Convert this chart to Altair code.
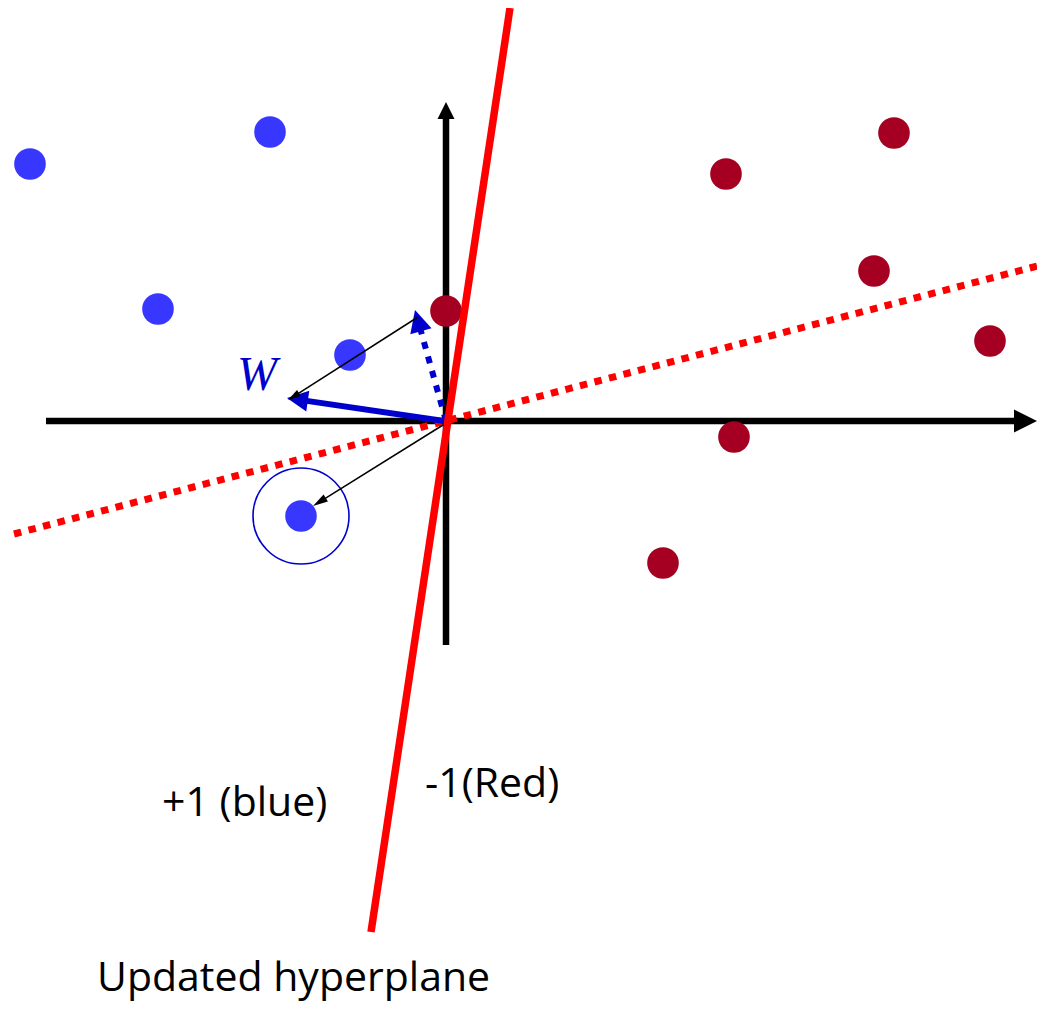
import math
import altair as alt
import pandas as pd

# ---------------- data (pixel coordinates) ----------------
blue_x = [30, 270, 158, 350, 301]
blue_y = [164, 132, 309, 355, 516]
red_x = [446, 726, 894, 874, 990, 734, 663]
red_y = [311, 174, 133, 271, 341, 437, 563]

# highlighted (misclassified) point ring
ring_x = [301]
ring_y = [516]

# hyperplanes: old (dotted) and updated (solid)
old_plane_x = [14, 1045]
old_plane_y = [534, 264]
new_plane_x = [510, 371]
new_plane_y = [8, 932]

# arrows: start point -> tip, head length
arrow_names = ["x_axis", "y_axis", "w_old", "w_dot", "shift1", "shift2"]
arrow_x1 = [46, 446, 444, 446, 418, 443]
arrow_y1 = [421, 645, 421, 421, 317, 425]
arrow_x2 = [1037, 446, 287, 415, 288, 313]
arrow_y2 = [421, 102, 398, 310, 400, 506]
arrow_head = [23, 17, 21, 22, 13, 15]
arrow_color = ["#000000", "#000000", "#0000CC", "#0000CC", "#000000", "#000000"]
arrow_width = [6.5, 6.5, 6, 6, 1.5, 1.5]
arrow_dashed = [False, False, False, True, False, False]

label_text = ["+1 (blue)", "-1(Red)", "Updated hyperplane"]
label_x = [162, 425, 97]
label_y = [816, 797, 991]

w_text = ["W"]
w_x = [237]
w_y = [390]

# ---------------- scales: 1 data unit = 1 pixel ----------------
W, H = 1029, 995
M = 8
xs = alt.Scale(domain=[M, M + W], nice=False, zero=False)
ys = alt.Scale(domain=[M, M + H], nice=False, zero=False, reverse=True)


def X(f="x"):
    return alt.X(f"{f}:Q", scale=xs, axis=None)


def Y(f="y"):
    return alt.Y(f"{f}:Q", scale=ys, axis=None)


# ---------------- arrow geometry ----------------
shaft_rows, head_rows = [], []
for n, x1, y1, x2, y2, L, c, w, d in zip(arrow_names, arrow_x1, arrow_y1, arrow_x2, arrow_y2,
                                         arrow_head, arrow_color, arrow_width, arrow_dashed):
    dx, dy = x2 - x1, y2 - y1
    ln = math.hypot(dx, dy)
    ux, uy = dx / ln, dy / ln
    shaft_rows.append(dict(name=n, x=x1, y=y1, x2=x2 - ux * (L - 1), y2=y2 - uy * (L - 1),
                           color=c, width=w, dashed=d))
    ang = math.degrees(math.atan2(dy, dx)) % 360
    head_rows.append(dict(name=n, x=x2 - ux * L / 2, y=y2 - uy * L / 2, angle=ang,
                          size=L * L, color=c))
shafts = pd.DataFrame(shaft_rows)
heads = pd.DataFrame(head_rows)

solid_black = shafts[(shafts.color == "#000000") & (shafts.width > 3)]
thin_black = shafts[(shafts.color == "#000000") & (shafts.width <= 3)]
blue_solid = shafts[(shafts.color == "#0000CC") & (~shafts.dashed)]
blue_dash = shafts[(shafts.color == "#0000CC") & (shafts.dashed)]

axes_layer = alt.Chart(solid_black).mark_rule(color="black", strokeWidth=6.5).encode(
    x=X(), y=Y(), x2="x2:Q", y2="y2:Q")
axes_heads = alt.Chart(heads[heads.name.isin(["x_axis", "y_axis"])]).mark_point(
    shape="M1,0L-1,-1L-1,1Z", filled=True, opacity=1, strokeOpacity=0).encode(
    x=X(), y=Y(), angle=alt.Angle("angle:Q", scale=None),
    size=alt.Size("size:Q", scale=None, legend=None),
    color=alt.Color("color:N", scale=None))

pts_blue = alt.Chart(pd.DataFrame({"x": blue_x, "y": blue_y})).mark_circle(
    size=1000, color="#3737FF", opacity=1).encode(x=X(), y=Y())
pts_red = alt.Chart(pd.DataFrame({"x": red_x, "y": red_y})).mark_circle(
    size=1000, color="#A50021", opacity=1).encode(x=X(), y=Y())
ring = alt.Chart(pd.DataFrame({"x": ring_x, "y": ring_y})).mark_point(
    shape="circle", size=96 * 96, filled=False, color="#0000CC", strokeWidth=1.6, opacity=1
).encode(x=X(), y=Y())

old_plane = alt.Chart(pd.DataFrame({"x": [old_plane_x[0]], "y": [old_plane_y[0]],
                                    "x2": [old_plane_x[1]], "y2": [old_plane_y[1]]})).mark_rule(
    color="#FF0000", strokeWidth=7, strokeDash=[7.5, 7.5], strokeCap="butt").encode(
    x=X(), y=Y(), x2="x2:Q", y2="y2:Q")
new_plane = alt.Chart(pd.DataFrame({"x": [new_plane_x[0]], "y": [new_plane_y[0]],
                                    "x2": [new_plane_x[1]], "y2": [new_plane_y[1]]})).mark_rule(
    color="#FF0000", strokeWidth=7.5).encode(x=X(), y=Y(), x2="x2:Q", y2="y2:Q")

blue_dash_layer = alt.Chart(blue_dash).mark_rule(
    color="#0000CC", strokeWidth=6, strokeDash=[7, 8], strokeCap="butt").encode(
    x=X(), y=Y(), x2="x2:Q", y2="y2:Q")
blue_solid_layer = alt.Chart(blue_solid).mark_rule(color="#0000CC", strokeWidth=6).encode(
    x=X(), y=Y(), x2="x2:Q", y2="y2:Q")
blue_heads = alt.Chart(heads[heads.name.isin(["w_old", "w_dot"])]).mark_point(
    shape="M1,0L-1,-1L-1,1Z", filled=True, opacity=1, strokeOpacity=0).encode(
    x=X(), y=Y(), angle=alt.Angle("angle:Q", scale=None),
    size=alt.Size("size:Q", scale=None, legend=None),
    color=alt.Color("color:N", scale=None))

thin_layer = alt.Chart(thin_black).mark_rule(color="black", strokeWidth=1.5).encode(
    x=X(), y=Y(), x2="x2:Q", y2="y2:Q")
thin_heads = alt.Chart(heads[heads.name.isin(["shift1", "shift2"])]).mark_point(
    shape="M1,0L-1,-0.55L-1,0.55Z", filled=True, opacity=1, strokeOpacity=0).encode(
    x=X(), y=Y(), angle=alt.Angle("angle:Q", scale=None),
    size=alt.Size("size:Q", scale=None, legend=None),
    color=alt.Color("color:N", scale=None))

labels = alt.Chart(pd.DataFrame({"x": label_x, "y": label_y, "t": label_text})).mark_text(
    font="Open Sans", fontSize=41, align="left", baseline="alphabetic", color="black").encode(
    x=X(), y=Y(), text="t:N")
w_label = alt.Chart(pd.DataFrame({"x": w_x, "y": w_y, "t": w_text})).mark_text(
    font="Liberation Serif", fontStyle="italic", fontSize=48, align="left",
    baseline="alphabetic", color="#0000CC").encode(x=X(), y=Y(), text="t:N")

chart = alt.layer(
    axes_layer, axes_heads, pts_blue, pts_red, ring, old_plane, blue_dash_layer,
    blue_solid_layer, blue_heads, new_plane, thin_layer, thin_heads, labels, w_label
).properties(
    width=W, height=H, padding=0, autosize=alt.AutoSizeParams(type="none"),
    background="white"
).configure_view(stroke=None)

chart.save("out.html", embed_options={"renderer": "svg", "actions": False})
